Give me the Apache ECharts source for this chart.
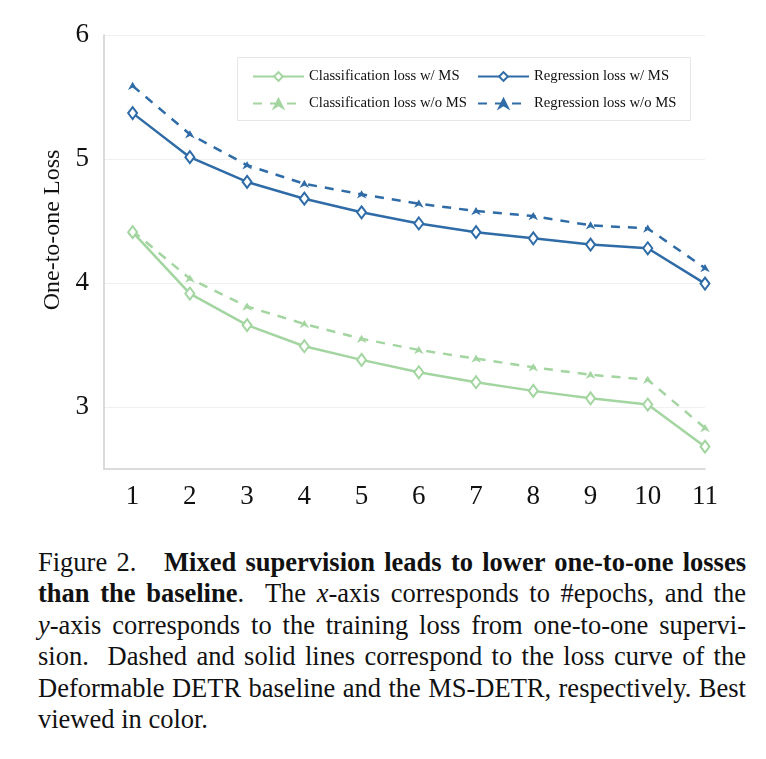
<!DOCTYPE html>
<html><head><meta charset="utf-8">
<script src="https://cdn.jsdelivr.net/npm/echarts@6/dist/echarts.min.js"></script>
<style>
html,body{margin:0;padding:0;background:#fff;}
#chart{position:absolute;left:0;top:0;width:766px;height:520px;}
#cap{position:absolute;left:38px;top:547px;width:708px;font-family:"Liberation Serif","Times New Roman",serif;font-size:26.5px;line-height:31.4px;color:#111;}
#cap div{white-space:nowrap;text-align:justify;text-align-last:justify;}
#cap div.last{text-align-last:left;}
</style></head>
<body>
<div id="chart"></div>
<div id="cap">
<div>Figure 2.&nbsp;&nbsp; <b>Mixed supervision leads to lower one-to-one losses</b></div>
<div><b>than the baseline</b>.&nbsp; The <i>x</i>-axis corresponds to #epochs, and the</div>
<div><i>y</i>-axis corresponds to the training loss from one-to-one supervi-</div>
<div>sion.&nbsp; Dashed and solid lines correspond to the loss curve of the</div>
<div>Deformable DETR baseline and the MS-DETR, respectively. Best</div>
<div class="last">viewed in color.</div>
</div>
<script>
const epochs = [1,2,3,4,5,6,7,8,9,10,11];
const clsWithMS = [4.41,3.915,3.66,3.49,3.38,3.28,3.20,3.13,3.07,3.02,2.68];
const clsWithoutMS = [4.42,4.035,3.81,3.67,3.55,3.46,3.39,3.32,3.26,3.22,2.83];
const regWithMS = [5.37,5.015,4.815,4.68,4.57,4.48,4.41,4.36,4.31,4.28,3.995];
const regWithoutMS = [5.59,5.20,4.95,4.80,4.715,4.64,4.58,4.54,4.465,4.44,4.12];
const yTicks = [3,4,5,6];
const names = ['Classification loss w/ MS','Regression loss w/ MS','Classification loss w/o MS','Regression loss w/o MS'];

const BLUE = '#2f6ca7', GREEN = '#a3d5a0';
const pairs = a => epochs.map((e,i)=>[e,a[i]]);
const arrowSym = 'path://M0,10 L5,0 L10,10 L5,7 Z';

function solid(name, data, color){
  return {name, type:'line', data:pairs(data), smooth:false,
    lineStyle:{color, width:2.5, type:'solid'},
    symbol:'diamond', symbolSize:[9,12],
    itemStyle:{color:'#fff', borderColor:color, borderWidth:2}, z:3};
}
function dashed(name, data, color){
  return {name, type:'line', data:pairs(data),
    lineStyle:{color, width:2.5, type:[9,8]},
    symbol:arrowSym, symbolSize:[7,6],
    itemStyle:{color, borderColor:color, borderWidth:1}, z:2};
}

const chart = echarts.init(document.getElementById('chart'), null, {renderer:'canvas'});
const seriesList = [
  solid(names[0], clsWithMS, GREEN),
  solid(names[1], regWithMS, BLUE),
  dashed(names[2], clsWithoutMS, GREEN),
  dashed(names[3], regWithoutMS, BLUE)
];
seriesList[0].markLine = {silent:true, symbol:'none', label:{show:false},
  lineStyle:{color:'#f0f0f0', width:1, type:'solid'},
  data: yTicks.map(v=>({yAxis:v})), z:0};

const legendText = {fontFamily:'Liberation Serif', fontSize:14.7, color:'#111'};
chart.setOption({
  animation:false,
  backgroundColor:'#fff',
  grid:{left:104, right:61, top:35, height:434},
  xAxis:{type:'value', min:0.5, max:11,
    axisLine:{show:true, lineStyle:{color:'#cfcfcf', width:1.5}},
    axisTick:{show:false},
    splitLine:{show:false},
    axisLabel:{customValues:epochs, margin:14, fontFamily:'Liberation Serif', fontSize:27, color:'#111'}
  },
  yAxis:{type:'value', min:2.5, max:6,
    name:'One-to-one Loss', nameLocation:'middle', nameGap:30, nameRotate:90,
    nameTextStyle:{fontFamily:'Liberation Serif', fontSize:24, color:'#111', padding:[0,0,0,44]},
    axisLine:{show:true, lineStyle:{color:'#cfcfcf', width:1.5}},
    axisTick:{show:false},
    splitLine:{show:false},
    axisLabel:{customValues:yTicks, margin:15, fontFamily:'Liberation Serif', fontSize:27, color:'#111'}
  },
  legend:[
    {orient:'vertical', left:247, top:64, itemWidth:51, itemHeight:11, itemGap:12,
      data:[names[0], names[2]], textStyle:legendText, selectedMode:false},
    {orient:'vertical', left:472, top:64, itemWidth:51, itemHeight:11, itemGap:12,
      data:[names[1], names[3]], textStyle:legendText, selectedMode:false}
  ],
  graphic:[{type:'rect', left:237, top:57, shape:{width:453, height:63},
    style:{fill:'#fff', stroke:'#e6e6e6', lineWidth:1}, z:-1, silent:true}],
  series: seriesList
});
</script>
</body></html>
